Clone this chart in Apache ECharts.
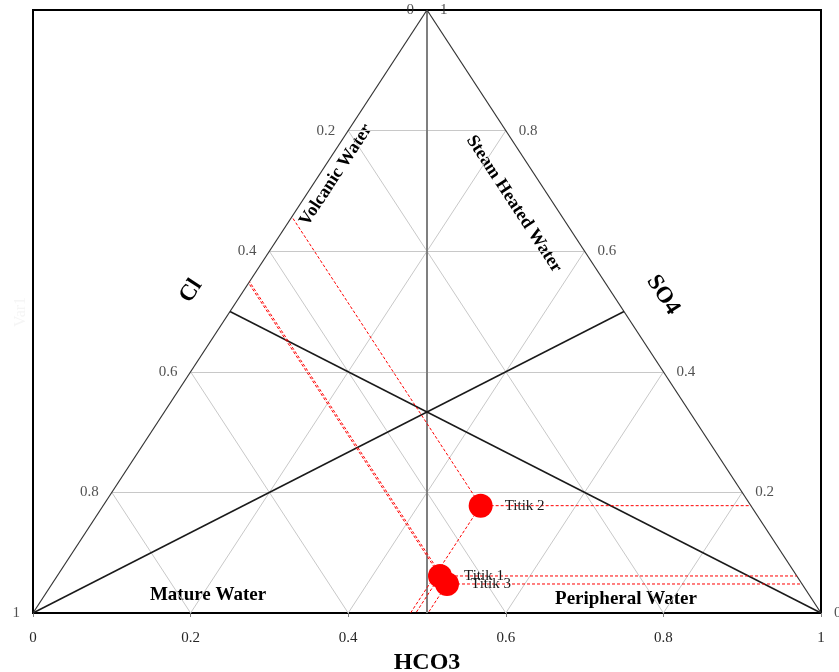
<!DOCTYPE html>
<html>
<head>
<meta charset="utf-8">
<script src="https://cdn.jsdelivr.net/npm/echarts@6/dist/echarts.min.js"></script>
<style>
html,body{margin:0;padding:0;background:#fff;}
#chart{width:839px;height:672px;}
</style>
</head>
<body>
<div id="chart"></div>
<script>
// ---- data ----
const xTicks = [0, 0.2, 0.4, 0.6, 0.8, 1];
const gridLevels = [0.2, 0.4, 0.6, 0.8];
const sideLevels = [0, 0.2, 0.4, 0.6, 0.8, 1];
const clLabels = ['1', '0.8', '0.6', '0.4', '0.2', '0'];
const so4Labels = ['0', '0.2', '0.4', '0.6', '0.8', '1'];
const pointNames = ['Titik 1', 'Titik 2', 'Titik 3'];
const hco3Pos = [0.5165, 0.5681, 0.5254];   // position along HCO3 (x) axis
const so4Pos = [0.0614, 0.178, 0.0481];     // height fraction (SO4 scale)

// ---- derived geometry ----
const gridSegs = [];
gridLevels.forEach(k => {
  gridSegs.push({coords: [[k / 2, k], [1 - k / 2, k]]});
  gridSegs.push({coords: [[k, 0], [(1 + k) / 2, 1 - k]]});
  gridSegs.push({coords: [[k, 0], [k / 2, k]]});
});
const edgeSegs = [
  {coords: [[0, 0], [0.5, 1]]},
  {coords: [[0.5, 1], [1, 0]]}
];
const medianSegs = [
  {coords: [[0, 0], [0.75, 0.5]]},
  {coords: [[1, 0], [0.25, 0.5]]}
];
const centerSeg = [{coords: [[0.5, 0], [0.5, 1]]}];

// projection lines of every sample onto the three sides
const projSeries = [];
pointNames.forEach((n, i) => {
  const x0 = hco3Pos[i], f0 = so4Pos[i];
  const s = x0 - f0 / 2;
  const segs = [
    [[x0, f0], [1 - f0 / 2, f0]],
    [[x0, f0], [x0 - f0 / 2, 0]],
    [[x0, f0], [x0 - s / 2, f0 + s]]
  ];
  segs.forEach(seg => {
    projSeries.push({
      type: 'line', z: 4, silent: true, symbol: 'none', showSymbol: false,
      lineStyle: {color: '#ff0000', width: 1, type: [3, 2]},
      data: seg
    });
  });
});

const serif = '"Liberation Serif", "Times New Roman", serif';
const tickLabelStyle = {fontFamily: serif, fontSize: 15, color: '#262626'};

const chart = echarts.init(document.getElementById('chart'));
chart.setOption({
  animation: false,
  backgroundColor: '#fff',
  grid: {left: 33, right: 18, top: 10, bottom: 59, outerBoundsMode: 'none', containLabel: false,
    show: true, borderColor: '#000', borderWidth: 2, backgroundColor: 'transparent'},
  xAxis: {
    type: 'value', min: 0, max: 1, interval: 0.2,
    name: 'HCO3', nameLocation: 'middle', nameGap: 36,
    nameTextStyle: {fontFamily: serif, fontSize: 24, fontWeight: 'bold', color: '#000'},
    axisLine: {show: true, lineStyle: {color: '#000', width: 2}},
    axisTick: {show: true, length: 4, lineStyle: {color: '#808080'}},
    axisLabel: Object.assign({margin: 18, formatter: v => String(Math.round(v * 10) / 10)}, tickLabelStyle),
    splitLine: {show: false}
  },
  yAxis: {type: 'value', min: 0, max: 1, show: false, splitLine: {show: false}},
  series: [
    {type: 'lines', coordinateSystem: 'cartesian2d', silent: true, z: 1,
      lineStyle: {color: '#c8c8c8', width: 1, opacity: 1}, data: gridSegs},
    {type: 'lines', coordinateSystem: 'cartesian2d', silent: true, z: 2,
      lineStyle: {color: '#7f7f7f', width: 2, opacity: 1}, data: centerSeg},
    {type: 'lines', coordinateSystem: 'cartesian2d', silent: true, z: 3,
      lineStyle: {color: '#333', width: 1.2, opacity: 1}, data: edgeSegs},
    {type: 'lines', coordinateSystem: 'cartesian2d', silent: true, z: 3,
      lineStyle: {color: '#1a1a1a', width: 1.5, opacity: 1}, data: medianSegs}
  ].concat(projSeries).concat([
    {type: 'scatter', z: 5, symbol: 'circle', symbolSize: 24,
      itemStyle: {color: '#ff0000', opacity: 1},
      label: {show: true, position: 'right', distance: 12, formatter: p => p.name,
        fontFamily: serif, fontSize: 15, color: '#1a1a1a'},
      data: pointNames.map((n, i) => ({name: n, value: [hco3Pos[i], so4Pos[i]]}))},
    {type: 'scatter', z: 6, symbolSize: 0, silent: true,
      label: Object.assign({show: true, position: 'left', distance: 13, formatter: p => p.name}, tickLabelStyle),
      data: sideLevels.map((f, i) => ({name: clLabels[i], value: [f / 2, f]}))},
    {type: 'scatter', z: 6, symbolSize: 0, silent: true,
      label: Object.assign({show: true, position: 'right', distance: 13, formatter: p => p.name}, tickLabelStyle),
      data: sideLevels.map((f, i) => ({name: so4Labels[i], value: [1 - f / 2, f]}))}
  ]),
  graphic: [
    {type: 'text', x: 191, y: 291, rotation: 0.991, silent: true,
      style: {text: 'Cl', font: 'bold 23px ' + serif, fill: '#000', textAlign: 'center', textVerticalAlign: 'middle'}},
    {type: 'text', x: 663, y: 295, rotation: -0.991, silent: true,
      style: {text: 'SO4', font: 'bold 23px ' + serif, fill: '#000', textAlign: 'center', textVerticalAlign: 'middle'}},
    {type: 'text', x: 336, y: 175, rotation: 0.991, silent: true,
      style: {text: 'Volcanic Water', font: 'bold 18px ' + serif, fill: '#000', textAlign: 'center', textVerticalAlign: 'middle'}},
    {type: 'text', x: 514, y: 204, rotation: -0.991, silent: true,
      style: {text: 'Steam Heated Water', font: 'bold 18px ' + serif, fill: '#000', textAlign: 'center', textVerticalAlign: 'middle'}},
    {type: 'text', x: 208, y: 595, silent: true,
      style: {text: 'Mature Water', font: 'bold 19px ' + serif, fill: '#000', textAlign: 'center', textVerticalAlign: 'middle'}},
    {type: 'text', x: 626, y: 599, silent: true,
      style: {text: 'Peripheral Water', font: 'bold 19px ' + serif, fill: '#000', textAlign: 'center', textVerticalAlign: 'middle'}},
    {type: 'text', x: 21, y: 312, rotation: Math.PI / 2, silent: true,
      style: {text: 'Var1', font: '16px ' + serif, fill: '#f5f5f5', textAlign: 'center', textVerticalAlign: 'middle'}}
  ]
});
</script>
</body>
</html>
